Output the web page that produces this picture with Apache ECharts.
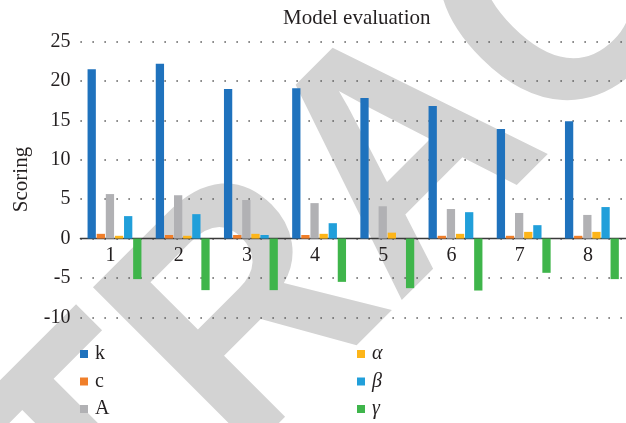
<!DOCTYPE html>
<html>
<head>
<meta charset="utf-8">
<script src="https://cdn.jsdelivr.net/npm/echarts@6/dist/echarts.min.js"></script>
<style>
  html, body { margin: 0; padding: 0; background: #fff; }
  #chart { width: 626px; height: 423px; }
</style>
</head>
<body>
<div id="chart"></div>
<script>
// Model evaluation scores per model (1–8), one array per parameter
const categories = ['1', '2', '3', '4', '5', '6', '7', '8'];
const kValues     = [21.5, 22.2, 19.0, 19.1, 17.85, 16.85, 13.9, 14.9];
const cValues     = [0.6, 0.45, 0.45, 0.45, 0, 0.35, 0.35, 0.35];
const aValues     = [5.65, 5.5, 4.9, 4.5, 4.1, 3.75, 3.25, 3.0];
const alphaValues = [0.35, 0.35, 0.6, 0.6, 0.75, 0.6, 0.85, 0.85];
const betaValues  = [2.85, 3.1, 0.45, 1.95, 0, 3.35, 1.7, 4.0];
const gammaValues = [-5.15, -6.55, -6.55, -5.5, -6.3, -6.6, -4.35, -5.15];
const yTicks = { min: -10, max: 25, step: 5 };

const serif = '"Liberation Serif", "DejaVu Serif", serif';
const textColor = '#231f20';

const seriesDefs = [
  { name: 'k', data: kValues, color: '#1f72bd' },
  { name: 'c', data: cValues, color: '#f07f2a' },
  { name: 'A', data: aValues, color: '#b1b1b4' },
  { name: 'α', data: alphaValues, color: '#fdb519' },
  { name: 'β', data: betaValues, color: '#219fda' },
  { name: 'γ', data: gammaValues, color: '#3fb54b' }
];

// plot area geometry: the category axis sits on the zero line
const gridTop = 41.7, gridBottom = 105.7, chartHeight = 423;
const plotHeight = chartHeight - gridTop - gridBottom;
const zeroOffset = plotHeight * (0 - yTicks.min) / (yTicks.max - yTicks.min);

const chart = echarts.init(document.getElementById('chart'), null, { renderer: 'canvas' });

const legendCommon = {
  orient: 'vertical',
  top: 344,
  padding: 0,
  itemWidth: 8,
  itemHeight: 8,
  itemGap: 7.5,
  icon: 'rect',
  textStyle: { fontFamily: serif, fontSize: 20, color: textColor, padding: [0, 0, 0, 2] }
};

chart.setOption({
  backgroundColor: '#fff',
  animation: false,
  title: {
    text: 'Model evaluation',
    left: 283,
    top: 8,
    padding: 0,
    textStyle: { fontFamily: serif, fontSize: 21, fontWeight: 'normal', color: textColor }
  },
  // diagonal stamp behind the plot
  graphic: [{
    type: 'text',
    z: -100,
    x: 410.5,
    y: 162.5,
    rotation: Math.PI / 4,
    scaleX: 0.95,
    scaleY: 1.02,
    silent: true,
    style: {
      text: 'RETRACTED',
      font: 'bold 324px "Liberation Sans", Arial, sans-serif',
      fill: '#d3d3d3',
      textAlign: 'center',
      textVerticalAlign: 'middle'
    }
  }],
  legend: [
    Object.assign({}, legendCommon, { left: 80, data: ['k', 'c', 'A'] }),
    Object.assign({}, legendCommon, {
      left: 357,
      data: ['α', 'β', 'γ'],
      textStyle: Object.assign({}, legendCommon.textStyle, { fontStyle: 'italic' })
    })
  ],
  grid: { left: 80.4, right: -7, top: gridTop, bottom: gridBottom, containLabel: false },
  xAxis: {
    type: 'category',
    data: categories,
    offset: -zeroOffset,
    axisLine: { onZero: false, lineStyle: { color: '#3a3a3a', width: 1.4 } },
    axisTick: { show: false },
    axisLabel: { fontFamily: serif, fontSize: 20, color: textColor, margin: 7, padding: [0, 8, 0, 0] },
    splitLine: { show: false }
  },
  yAxis: {
    type: 'value',
    min: yTicks.min,
    max: yTicks.max,
    interval: yTicks.step,
    name: 'Scoring',
    nameLocation: 'middle',
    nameGap: 48,
    nameRotate: 90,
    nameTextStyle: { fontFamily: serif, fontSize: 21, color: textColor },
    axisLine: { show: false },
    axisTick: { show: false },
    axisLabel: { fontFamily: serif, fontSize: 20, color: textColor, margin: 10 },
    splitLine: { lineStyle: { color: '#555', width: 1.5, type: [1.5, 10.5] } }
  },
  series: seriesDefs.map(s => ({
    name: s.name,
    type: 'bar',
    data: s.data,
    itemStyle: { color: s.color },
    barGap: '10%',
    barCategoryGap: '21%'
  }))
});
</script>
</body>
</html>
